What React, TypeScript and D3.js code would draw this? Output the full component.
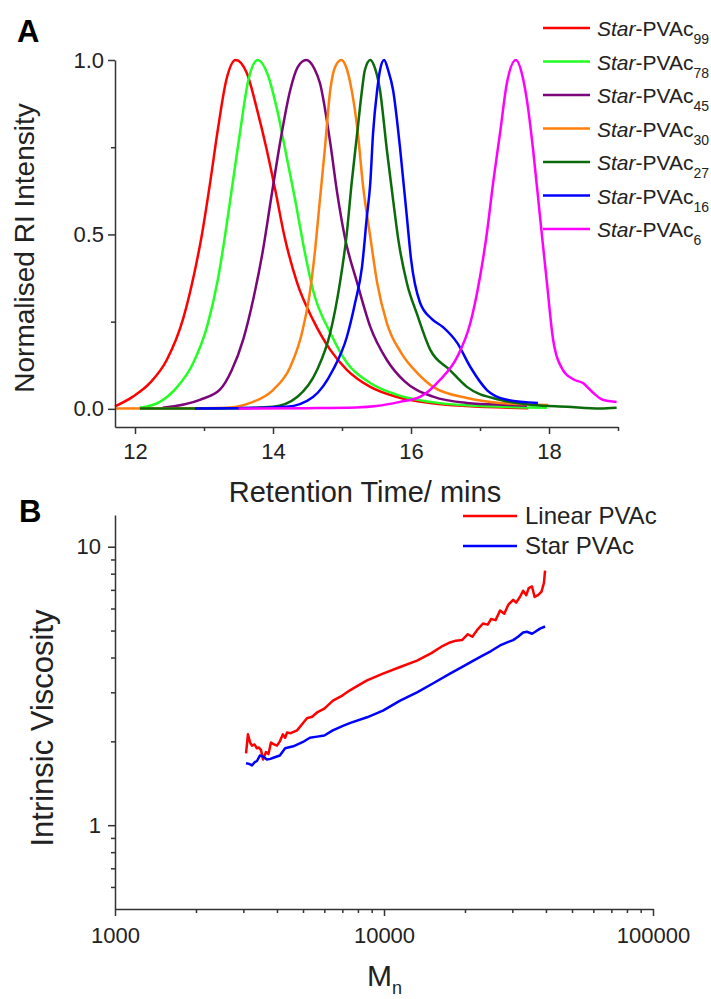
import { useEffect, useRef } from "react";
import * as d3 from "d3";

const W = 711;
const H = 999;
const FONT = "'Liberation Sans', Arial, sans-serif";
const AX = "#333";
const TXT = "#222";

// ---- panel A: GPC traces, [retention time (min), normalised RI] ----
const pvac99 = [[11.71,0.007],[11.97,0.035],[12.22,0.075],[12.46,0.14],[12.7,0.26],[12.85,0.38],[12.97,0.5],[13.09,0.65],[13.2,0.8],[13.32,0.94],[13.46,1.0],[13.62,0.963],[13.77,0.857],[13.91,0.742],[14.04,0.62],[14.16,0.5],[14.35,0.361],[14.58,0.255],[14.83,0.169],[15.07,0.112],[15.41,0.063],[15.8,0.034],[16.28,0.017],[16.8,0.008],[17.7,0.002]];
const pvac78 = [[12.07,0.003],[12.36,0.02],[12.6,0.06],[12.84,0.13],[13.05,0.24],[13.2,0.37],[13.3,0.49],[13.41,0.64],[13.52,0.79],[13.64,0.94],[13.78,1.0],[13.92,0.96],[14.06,0.857],[14.2,0.72],[14.32,0.6],[14.44,0.47],[14.58,0.34],[14.83,0.218],[15.07,0.132],[15.41,0.074],[15.8,0.04],[16.28,0.02],[16.8,0.01],[17.97,0.003]];
const pvac45 = [[12.4,0.003],[12.94,0.026],[13.23,0.055],[13.4,0.11],[13.57,0.2],[13.72,0.32],[13.85,0.45],[13.97,0.6],[14.1,0.76],[14.25,0.914],[14.36,0.98],[14.48,1.0],[14.6,0.975],[14.68,0.934],[14.83,0.762],[14.93,0.619],[15.04,0.493],[15.22,0.361],[15.41,0.235],[15.65,0.14],[15.9,0.08],[16.32,0.035],[16.81,0.017],[17.43,0.011],[17.68,0.009]];
const pvac30 = [[11.71,0.001],[13.0,0.002],[13.38,0.004],[13.67,0.017],[14.0,0.054],[14.25,0.12],[14.42,0.218],[14.54,0.341],[14.61,0.456],[14.68,0.6],[14.75,0.742],[14.83,0.914],[14.9,0.98],[14.99,1.0],[15.06,0.98],[15.12,0.934],[15.23,0.79],[15.3,0.648],[15.41,0.493],[15.51,0.361],[15.65,0.246],[15.86,0.16],[16.09,0.103],[16.32,0.063],[16.81,0.031],[17.29,0.017],[17.99,0.011]];
const pvac27 = [[12.07,0.001],[13.0,0.001],[13.5,0.002],[14.0,0.006],[14.35,0.034],[14.64,0.112],[14.83,0.218],[14.97,0.361],[15.07,0.504],[15.14,0.648],[15.22,0.79],[15.29,0.914],[15.33,0.97],[15.41,1.0],[15.48,0.975],[15.55,0.914],[15.65,0.742],[15.74,0.6],[15.82,0.48],[15.94,0.361],[16.09,0.27],[16.28,0.169],[16.56,0.112],[16.81,0.063],[17.29,0.026],[17.77,0.011],[18.26,0.006],[18.74,0.001],[18.98,0.003]];
const pvac16 = [[12.87,0.001],[13.5,0.002],[14.2,0.006],[14.58,0.034],[14.87,0.112],[15.07,0.206],[15.19,0.304],[15.29,0.407],[15.36,0.55],[15.41,0.648],[15.45,0.79],[15.51,0.914],[15.55,0.97],[15.61,1.0],[15.67,0.97],[15.74,0.914],[15.84,0.75],[15.94,0.55],[16.0,0.43],[16.13,0.305],[16.3,0.258],[16.46,0.235],[16.67,0.189],[16.86,0.12],[17.1,0.054],[17.39,0.026],[17.84,0.017]];
const pvac6 = [[13.5,0.001],[14.5,0.002],[15.2,0.004],[15.5,0.008],[15.84,0.02],[16.13,0.034],[16.42,0.083],[16.67,0.149],[16.86,0.246],[17.0,0.378],[17.1,0.504],[17.19,0.648],[17.29,0.79],[17.39,0.934],[17.52,1.0],[17.62,0.95],[17.68,0.885],[17.77,0.742],[17.87,0.55],[17.97,0.361],[18.06,0.198],[18.2,0.112],[18.35,0.085],[18.49,0.074],[18.64,0.046],[18.78,0.026],[18.98,0.02]];

const gpcLabels = ["99", "78", "45", "30", "27", "16", "6"];
const gpcColors = ["#ff0000", "#22ff22", "#7a067a", "#ff7f0e", "#0b6b0b", "#0000ff", "#ff00ff"];
const gpcData = [pvac99, pvac78, pvac45, pvac30, pvac27, pvac16, pvac6];

const aXTicks = [12, 14, 16, 18];
const aXMinor = [13, 15, 17, 19];
const aYTicks = [0, 0.5, 1.0];
const aYMinor = [0.25, 0.75];

// ---- panel B: intrinsic viscosity vs Mn ----
const linearMn = [3070,3120,3180,3230,3300,3370,3430,3490,3550,3640,3720,3800,3900,4000,4100,4210,4290,4360,4500,4750,4950,5170,5400,5640,6000,6460,7000,7470,8000,8650,9910,11480,13270,15000,16500,17590,18500,19500,20500,21300,22300,23330,24300,25000,26000,27000,28000,29000,30200,31000,32000,32890,33800,34500,35500,36300,37370,38500,39300,39700];
const linearIV = [1.81,2.12,1.98,1.93,1.95,1.89,1.90,1.86,1.72,1.83,1.80,1.98,1.95,1.93,2.00,2.12,2.06,2.15,2.14,2.19,2.30,2.42,2.45,2.54,2.62,2.80,2.92,3.05,3.17,3.31,3.50,3.70,3.90,4.15,4.40,4.53,4.60,4.62,4.85,4.75,5.05,5.30,5.25,5.50,5.45,5.90,5.75,6.20,6.45,6.30,6.60,6.95,6.70,7.10,7.20,6.60,6.70,6.90,7.40,8.20];
const starMn = [3070,3150,3230,3300,3370,3460,3560,3670,3780,3900,4100,4290,4600,5000,5300,5640,6000,6450,7000,7500,8650,9910,11480,13270,15300,17590,20000,21500,23330,25000,27000,29000,30200,31500,32890,34000,35500,36500,38000,39700];
const starIV = [1.67,1.66,1.64,1.68,1.70,1.78,1.76,1.72,1.73,1.75,1.78,1.89,1.92,1.99,2.06,2.08,2.10,2.19,2.27,2.33,2.44,2.58,2.80,3.00,3.24,3.50,3.75,3.90,4.07,4.22,4.42,4.55,4.62,4.75,4.92,4.95,4.87,4.95,5.08,5.17];

const bXTicks = [1000, 10000, 100000];
const bXMinor = [2000,3000,4000,5000,6000,7000,8000,9000,20000,30000,40000,50000,60000,70000,80000,90000];
const bYTicks = [1, 10];
const bYMinor = [0.6,0.7,0.8,0.9,2,3,4,5,6,7,8,9];

// scales
const xA = d3.scaleLinear().domain([11.71, 19.0]).range([115, 618]);
const yA = d3.scaleLinear().domain([-0.052, 1.0]).range([427, 60]);
const xB = d3.scaleLog().domain([1000, 100000]).range([115, 653]);
const yB = d3.scaleLog().domain([0.5, 13]).range([909, 515]);

function styleAxis(g) {
  g.selectAll(".domain").attr("stroke", AX).attr("stroke-width", 1.5);
  g.selectAll(".tick line").attr("stroke", AX).attr("stroke-width", 1.5);
  g.selectAll(".tick text")
    .attr("fill", TXT)
    .attr("font-size", 22)
    .attr("font-family", FONT);
}

function minorAxis(g, axis) {
  g.call(axis.tickSize(4).tickFormat(() => ""));
  g.select(".domain").remove();
  g.selectAll(".tick line").attr("stroke", AX).attr("stroke-width", 1.5);
}

export default function App() {
  const axRef = useRef(null);

  useEffect(() => {
    const root = d3.select(axRef.current);
    root.selectAll("*").remove();

    // panel A
    minorAxis(root.append("g").attr("transform", "translate(115,0)"), d3.axisLeft(yA).tickValues(aYMinor));
    minorAxis(root.append("g").attr("transform", "translate(0,427)"), d3.axisBottom(xA).tickValues(aXMinor));
    const ay = root.append("g").attr("transform", "translate(115,0)")
      .call(d3.axisLeft(yA).tickValues(aYTicks).tickSize(7).tickSizeOuter(0).tickPadding(4).tickFormat(d3.format(".1f")));
    styleAxis(ay);
    const ax = root.append("g").attr("transform", "translate(0,427)")
      .call(d3.axisBottom(xA).tickValues(aXTicks).tickSize(7).tickSizeOuter(0).tickPadding(9).tickFormat(d3.format("d")));
    styleAxis(ax);

    // panel B
    minorAxis(root.append("g").attr("transform", "translate(115,0)"), d3.axisLeft(yB).tickValues(bYMinor));
    minorAxis(root.append("g").attr("transform", "translate(0,909)"), d3.axisBottom(xB).tickValues(bXMinor));
    const by = root.append("g").attr("transform", "translate(115,0)")
      .call(d3.axisLeft(yB).tickValues(bYTicks).tickSize(7).tickSizeOuter(0).tickPadding(7).tickFormat((d) => String(d)));
    styleAxis(by);
    const bx = root.append("g").attr("transform", "translate(0,909)")
      .call(d3.axisBottom(xB).tickValues(bXTicks).tickSize(7).tickSizeOuter(0).tickPadding(11).tickFormat((d) => String(d)));
    styleAxis(bx);
  }, []);

  const gpcLine = d3.line().x((d) => xA(d[0])).y((d) => yA(d[1])).curve(d3.curveMonotoneX);
  const ivLine = d3.line().x((d) => xB(d[0])).y((d) => yB(d[1]));
  const linearPts = linearMn.map((m, i) => [m, linearIV[i]]);
  const starPts = starMn.map((m, i) => [m, starIV[i]]);

  return (
    <svg width={W} height={H} style={{ position: "absolute", left: 0, top: 0, background: "#fff" }} fontFamily={FONT}>
      <rect width={W} height={H} fill="#fff" />

      {/* panel A */}
      <text x={17} y={42} fontSize={31} fontWeight="bold" fill="#000">A</text>
      <g>
        {gpcData.map((d, i) => (
          <path key={i} d={gpcLine(d)} fill="none" stroke={gpcColors[i]} strokeWidth={2.5} strokeLinejoin="round" />
        ))}
      </g>
      <g>
        {gpcLabels.map((s, i) => {
          const y = 28 + i * 33.5;
          return (
            <g key={s}>
              <line x1={543} x2={590} y1={y} y2={y} stroke={gpcColors[i]} strokeWidth={2.5} />
              <text x={597} y={y + 8} fontSize={21} fill={TXT}>
                <tspan fontStyle="italic">Star</tspan>-PVAc
                <tspan fontSize={14} dy={8}>{s}</tspan>
              </text>
            </g>
          );
        })}
      </g>
      <text x={365} y={502} fontSize={29} textAnchor="middle" fill={TXT}>Retention Time/ mins</text>
      <text transform="translate(34,248) rotate(-90)" fontSize={28} textAnchor="middle" fill={TXT}>Normalised RI Intensity</text>

      {/* panel B */}
      <text x={19} y={522} fontSize={31} fontWeight="bold" fill="#000">B</text>
      <path d={ivLine(linearPts)} fill="none" stroke="#ff0000" strokeWidth={2.5} strokeLinejoin="round" />
      <path d={ivLine(starPts)} fill="none" stroke="#0000ff" strokeWidth={2.5} strokeLinejoin="round" />
      <line x1={463} x2={517} y1={516} y2={516} stroke="#ff0000" strokeWidth={2.5} />
      <text x={525} y={524} fontSize={24} fill={TXT}>Linear PVAc</text>
      <line x1={463} x2={517} y1={546} y2={546} stroke="#0000ff" strokeWidth={2.5} />
      <text x={525} y={554} fontSize={24} fill={TXT}>Star PVAc</text>
      <text x={367} y={986} fontSize={30} fill={TXT}>
        M<tspan fontSize={18} dy={8}>n</tspan>
      </text>
      <text transform="translate(53,728) rotate(-90)" fontSize={31} textAnchor="middle" fill={TXT}>Intrinsic Viscosity</text>

      <g ref={axRef} />
    </svg>
  );
}
